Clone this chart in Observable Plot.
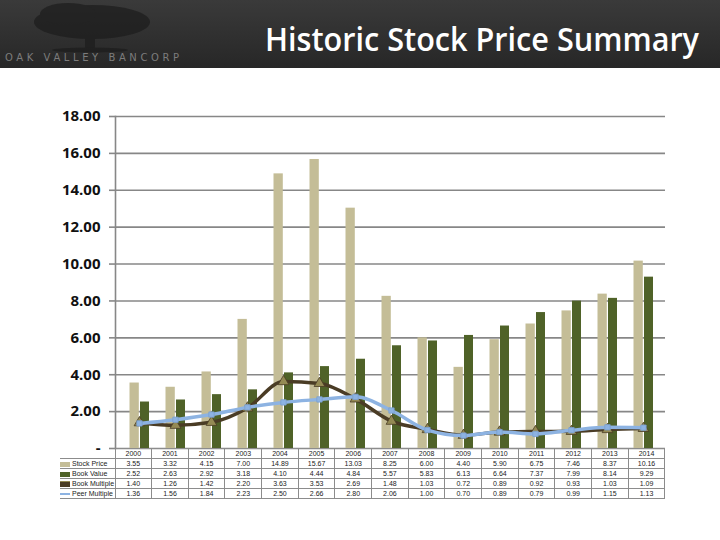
<!DOCTYPE html>
<html><head><meta charset="utf-8">
<script src="https://cdn.jsdelivr.net/npm/d3@7"></script>
<script src="https://cdn.jsdelivr.net/npm/@observablehq/plot@0.6"></script>
<style>
body{margin:0;background:#fff;width:720px;height:540px;overflow:hidden;position:relative;font-family:"Open Sans",sans-serif}
#header{position:absolute;left:0;top:0;width:720px;height:68px}
#chart{position:absolute;left:0;top:68px}
#tbl{position:absolute;left:60px;top:448px;border-collapse:collapse;table-layout:fixed;font-family:"Liberation Sans",sans-serif;font-size:7px;color:#222}
#tbl td{border:1.5px solid #8c8c8c;height:9px;padding:0;text-align:center;line-height:9px;white-space:nowrap;overflow:hidden}
#tbl td.lab{text-align:left;border-left:none}
#tbl td.blank{border:none}
.sw{display:inline-block;width:10px;vertical-align:middle;margin-right:2px}
</style></head>
<body>
<div id="header">
<svg width="720" height="68">
<defs><linearGradient id="g" x1="0" y1="0" x2="0" y2="1"><stop offset="0" stop-color="#3a3a3a"/><stop offset="1" stop-color="#272727"/></linearGradient></defs>
<rect width="720" height="68" fill="url(#g)"/>
<g fill="#1c1c1c" opacity="0.7">
<ellipse cx="92" cy="22" rx="58" ry="17"/>
<ellipse cx="68" cy="14" rx="28" ry="11"/>
<rect x="85" y="28" width="10" height="22"/>
<ellipse cx="90" cy="50" rx="38" ry="2.5"/>
</g>
<text x="5" y="61" fill="#7c7c7c" font-size="10" font-family="DejaVu Sans" textLength="174" lengthAdjust="spacing">OAK VALLEY BANCORP</text>
<text x="265" y="51" fill="#ffffff" font-size="32" font-weight="600" font-family="Open Sans" textLength="434" lengthAdjust="spacingAndGlyphs">Historic Stock Price Summary</text>
</svg>
</div>
<div id="chart"></div>
<table id="tbl"></table>
<script>
const years = ["2000","2001","2002","2003","2004","2005","2006","2007","2008","2009","2010","2011","2012","2013","2014"];
const stockPrice   = [3.55,3.32,4.15,7.00,14.89,15.67,13.03,8.25,6.00,4.40,5.90,6.75,7.46,8.37,10.16];
const bookValue    = [2.52,2.63,2.92,3.18,4.10,4.44,4.84,5.57,5.83,6.13,6.64,7.37,7.99,8.14,9.29];
const bookMultiple = [1.40,1.26,1.42,2.20,3.63,3.53,2.69,1.48,1.03,0.72,0.89,0.92,0.93,1.03,1.09];
const peerMultiple = [1.36,1.56,1.84,2.23,2.50,2.66,2.80,2.06,1.00,0.70,0.89,0.79,0.99,1.15,1.13];
const yTicks = [0,2,4,6,8,10,12,14,16,18];
const seriesNames = ["Stock Price","Book Value","Book Multiple","Peer Multiple"];

const rows = years.map((year,i)=>({year, stock:stockPrice[i], book:bookValue[i], bm:bookMultiple[i], pm:peerMultiple[i]}));
const cBeige="#c4bd97", cGreen="#4f6228", cBrown="#4a3c25", cTri="#948a54", cBlue="#8db3e2", cGrid="#878787";

const chart = Plot.plot({
  width:720, height:394, marginLeft:115, marginRight:55, marginTop:48, marginBottom:14,
  style:{fontFamily:"Open Sans", background:"transparent", overflow:"visible"},
  x:{type:"band", domain:years, padding:0, axis:null},
  y:{domain:[0,18], axis:null},
  marks:[
    Plot.gridY(yTicks,{stroke:cGrid, strokeOpacity:1, strokeWidth:1.6}),
    Plot.barY(rows,{x:"year", y:"stock", fill:cBeige, insetLeft:9.5, insetRight:17.2}),
    Plot.barY(rows,{x:"year", y:"book", fill:cGreen, insetLeft:20, insetRight:7}),
    Plot.frame({anchor:"left", stroke:cGrid, strokeWidth:1.6}),
    Plot.axisY({ticks:yTicks, tickFormat:d=>d===0?"-":d.toFixed(2), tickSize:6, tickPadding:9, fontSize:15, fontWeight:"bold", stroke:cGrid, strokeWidth:1.6, fill:"#111"}),
    Plot.lineY(rows,{x:"year", y:"bm", stroke:cBrown, strokeWidth:3.5, curve:"monotone-x", dx:1}),
    Plot.dot(rows,{x:"year", y:"bm", symbol:"triangle", r:4, fill:cTri, stroke:cBrown, strokeWidth:0.8, dx:1}),
    Plot.lineY(rows,{x:"year", y:"pm", stroke:cBlue, strokeWidth:3.5, curve:"monotone-x", dx:1}),
    Plot.dot(rows,{x:"year", y:"pm", symbol:"square", r:3, fill:cBlue, stroke:"#7a9fcf", strokeWidth:0.8, dx:1})
  ]
});
document.getElementById("chart").appendChild(chart);

// data table under the chart
const tbl = document.getElementById("tbl");
const colW = 550/years.length;
let html = '<colgroup><col style="width:55px">' + years.map(()=>`<col style="width:${colW}px">`).join("") + '</colgroup>';
html += '<tr><td class="blank"></td>' + years.map(y=>`<td>${y}</td>`).join("") + '</tr>';
const swatches = [
  `<span class="sw" style="height:5px;background:${cBeige}"></span>`,
  `<span class="sw" style="height:5px;background:${cGreen}"></span>`,
  `<span class="sw" style="height:5px;background:${cBrown};border-top:1px solid ${cTri}"></span>`,
  `<span class="sw" style="height:2px;background:${cBlue}"></span>`
];
const seriesVals = [stockPrice, bookValue, bookMultiple, peerMultiple];
seriesNames.forEach((name,k)=>{
  html += `<tr><td class="lab">${swatches[k]}${name}</td>` + seriesVals[k].map(v=>`<td>${v.toFixed(2)}</td>`).join("") + '</tr>';
});
tbl.innerHTML = html;
</script>
</body></html>
